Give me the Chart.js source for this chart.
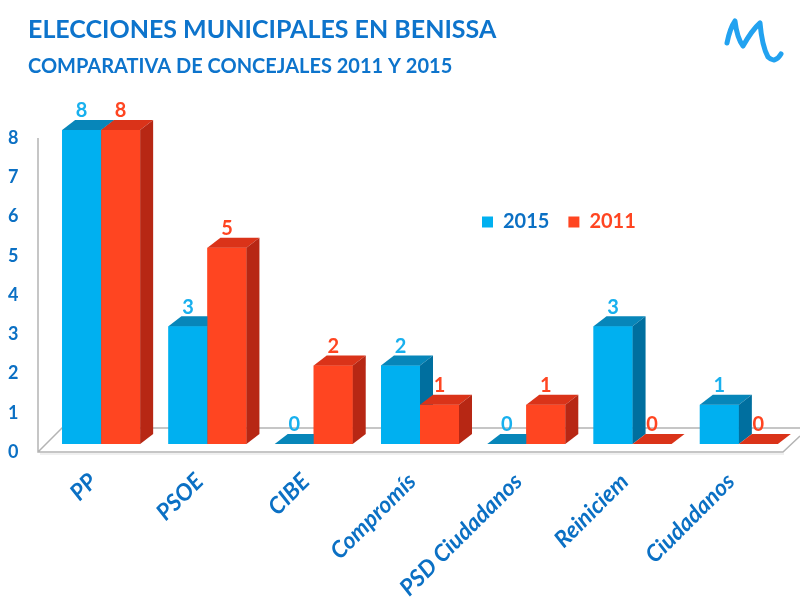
<!DOCTYPE html>
<html>
<head>
<meta charset="utf-8">
<script src="https://cdn.jsdelivr.net/npm/chart.js@4.4.1/dist/chart.umd.min.js"></script>
<style>
  html, body { margin: 0; padding: 0; background: #ffffff; }
  #wrap { width: 800px; height: 600px; position: relative; }
</style>
</head>
<body>
<div id="wrap"><canvas id="c"></canvas></div>
<script>
// ---- data ----
const categories = ["PP", "PSOE", "CIBE", "Compromís", "PSD Ciudadanos", "Reiniciem", "Ciudadanos"];
const seats2015 = [8, 3, 0, 2, 0, 3, 1];
const seats2011 = [8, 5, 2, 1, 1, 0, 0];
const seriesLabels = ["2015", "2011"];
const yTicks = [0, 1, 2, 3, 4, 5, 6, 7, 8];
const titleText = "ELECCIONES MUNICIPALES EN BENISSA";
const subtitleText = "COMPARATIVA DE CONCEJALES 2011 Y 2015";

// ---- styles ----
const FONT = "Lato, 'Open Sans', sans-serif";
const DARK_BLUE = "#0b70c4";
const BLUE = "#00b0f0", BLUE_TOP = "#0786b9", BLUE_SIDE = "#006f9f";
const RED = "#ff4521", RED_TOP = "#da3319", RED_SIDE = "#b72714";
const DX = 13, DY = 10;
Chart.defaults.font.family = FONT;

const bars3d = {
  id: 'bars3d',
  beforeDatasetsDraw(chart) {
    const {ctx, chartArea} = chart;
    const base = chart.scales.y.getPixelForValue(0);
    const l = chartArea.left, r = chartArea.right;
    ctx.save();
    ctx.strokeStyle = "#b4b4b4";
    ctx.lineWidth = 1.5;
    ctx.beginPath();
    ctx.moveTo(l - 10, chart.scales.y.getPixelForValue(8) + 8);
    ctx.lineTo(l - 10, base + 8);
    ctx.lineTo(r - 9, base + 8);
    ctx.lineTo(r + 8, base - 8);
    ctx.moveTo(l - 10, base + 8);
    ctx.lineTo(l + 14, base - 16);
    ctx.lineTo(r + 10, base - 16);
    ctx.stroke();
    ctx.strokeStyle = "rgba(0,0,0,0.08)";
    ctx.beginPath();
    ctx.moveTo(l - 8, base + 10);
    ctx.lineTo(r - 8, base + 10);
    ctx.stroke();
    ctx.restore();
  },
  afterDatasetsDraw(chart) {
    const {ctx} = chart;
    const base = chart.scales.y.getPixelForValue(0);
    const labels = [];
    ctx.save();
    chart.data.datasets.forEach((ds, d) => {
      const meta = chart.getDatasetMeta(d);
      meta.data.forEach((bar, i) => {
        bar.draw(ctx, chart.chartArea);
        const p = bar.getProps(['x', 'y', 'width'], true);
        const x0 = p.x - p.width / 2, x1 = p.x + p.width / 2, y = p.y;
        ctx.fillStyle = ds.topColor;
        ctx.beginPath();
        ctx.moveTo(x0, y); ctx.lineTo(x0 + DX, y - DY); ctx.lineTo(x1 + DX, y - DY); ctx.lineTo(x1, y);
        ctx.closePath(); ctx.fill();
        if (base - y > 0.5) {
          ctx.fillStyle = ds.sideColor;
          ctx.beginPath();
          ctx.moveTo(x1, y); ctx.lineTo(x1 + DX, y - DY); ctx.lineTo(x1 + DX, base - DY); ctx.lineTo(x1, base);
          ctx.closePath(); ctx.fill();
        }
        labels.push({ text: String(ds.data[i]), x: p.x, y: y - 19, color: ds.labelColor });
      });
    });
    ctx.font = "bold 20px " + FONT;
    ctx.textAlign = "center";
    ctx.textBaseline = "middle";
    labels.forEach(l => { ctx.fillStyle = l.color; ctx.fillText(l.text, l.x, l.y); });
    ctx.restore();
  }
};

const legendPlace = {
  id: 'legendPlace',
  beforeDraw(chart) {
    const lg = chart.legend;
    if (!lg) return;
    const pad = lg.options.labels.padding;
    lg.left = 482 - pad;
    lg.right = 790;
    lg.top = 212 - pad;
    lg.bottom = lg.top + 40;
  }
};

const logo = {
  id: 'logo',
  afterDraw(chart) {
    const {ctx} = chart;
    ctx.save();
    ctx.strokeStyle = "#22a2f0";
    ctx.lineCap = "round";
    ctx.lineJoin = "round";
    ctx.lineWidth = 5;
    ctx.beginPath();
    ctx.moveTo(727, 43);
    ctx.quadraticCurveTo(730, 28, 735, 21);
    ctx.quadraticCurveTo(737, 38, 743, 46);
    ctx.quadraticCurveTo(752, 30, 760, 23);
    ctx.quadraticCurveTo(762, 46, 768, 57);
    ctx.quadraticCurveTo(775, 64, 781, 54);
    ctx.stroke();
    ctx.restore();
  }
};

new Chart(document.getElementById('c'), {
  type: 'bar',
  data: {
    labels: categories,
    datasets: [
      { label: seriesLabels[0], data: seats2015, backgroundColor: BLUE, borderColor: BLUE, borderWidth: 0,
        topColor: BLUE_TOP, sideColor: BLUE_SIDE, labelColor: "#18b0ee", legendTextColor: DARK_BLUE },
      { label: seriesLabels[1], data: seats2011, backgroundColor: RED, borderColor: RED, borderWidth: 0,
        topColor: RED_TOP, sideColor: RED_SIDE, labelColor: RED, legendTextColor: RED }
    ]
  },
  options: {
    responsive: true,
    maintainAspectRatio: false,
    animation: false,
    events: [],
    layout: { padding: { left: 28, right: 8, top: 0, bottom: 0 } },
    datasets: { bar: { barPercentage: 1, categoryPercentage: 0.734 } },
    scales: {
      x: {
        grid: { display: false, drawTicks: false },
        border: { display: false },
        ticks: {
          minRotation: 45, maxRotation: 45, padding: 24, labelOffset: -8, autoSkip: false,
          color: DARK_BLUE, font: { size: 23, weight: 'bold', style: 'italic' }
        },
        afterFit: (s) => { s.height = 156; }
      },
      y: {
        min: 0, max: 8,
        grid: { display: false, drawTicks: false },
        border: { display: false },
        afterBuildTicks: (s) => { s.ticks = yTicks.map(v => ({ value: v })); },
        ticks: { mirror: true, padding: -40, labelOffset: 8, color: DARK_BLUE, font: { size: 18, weight: 'bold' } },
        afterFit: (s) => { s.width = 20; }
      }
    },
    plugins: {
      title: {
        display: true, text: titleText, align: 'start', color: "#0d74cc",
        font: { size: 25, weight: 'bold' }, padding: { top: 15, bottom: 0 }
      },
      subtitle: {
        display: true, text: subtitleText, align: 'start', color: "#0d74cc",
        font: { size: 20, weight: 'bold' }, padding: { top: 10, bottom: 50 }
      },
      legend: {
        display: true, position: 'top', align: 'start', maxHeight: 1,
        labels: {
          boxWidth: 11, boxHeight: 11, padding: 19,
          font: { size: 20, weight: 'bold' },
          generateLabels: (chart) => {
            const items = Chart.defaults.plugins.legend.labels.generateLabels(chart);
            items.forEach(it => { it.fontColor = chart.data.datasets[it.datasetIndex].legendTextColor; it.lineWidth = 0; });
            return items;
          }
        }
      },
      tooltip: { enabled: false }
    }
  },
  plugins: [bars3d, legendPlace, logo]
});
</script>
</body>
</html>
